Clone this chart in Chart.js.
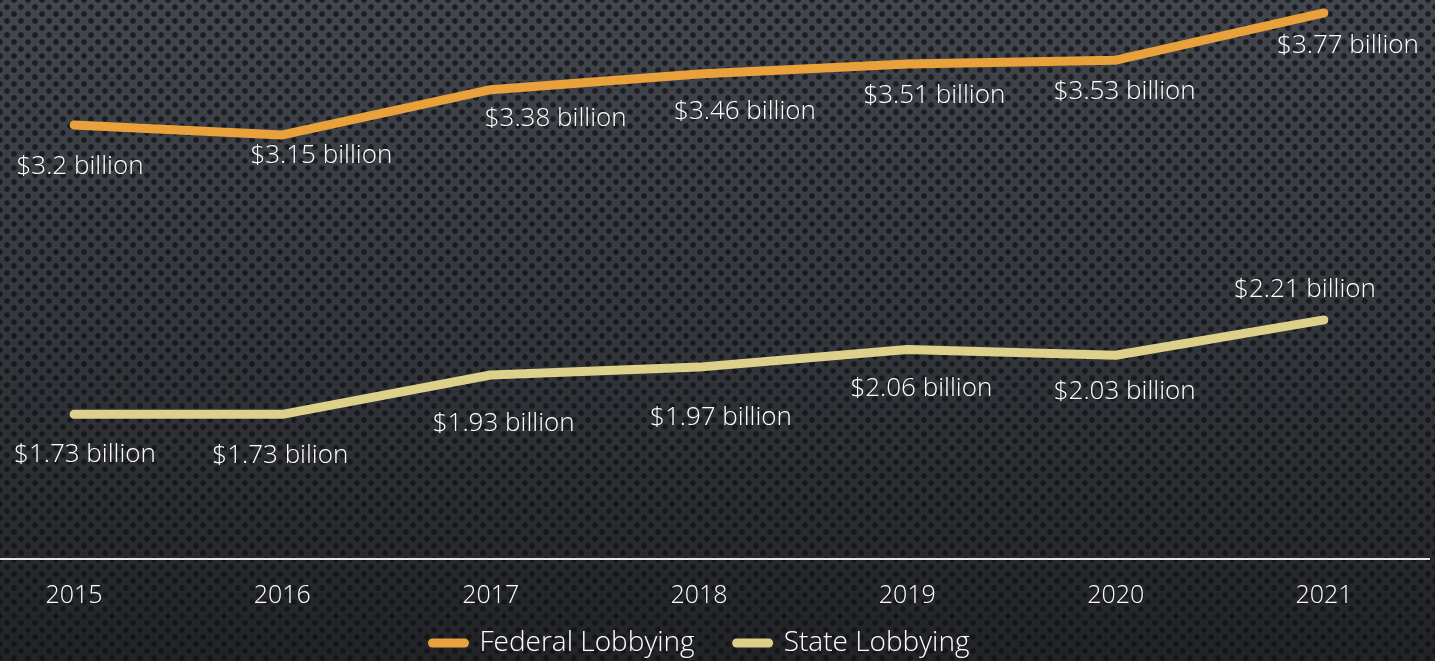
<!DOCTYPE html>
<html lang="en">
<head>
    <meta charset="UTF-8">
    <title>Federal vs State Lobbying</title>
    <script src="https://cdn.jsdelivr.net/npm/chart.js"></script>
    <style>
        html, body { margin: 0; padding: 0; }
        body {
            width: 1435px; height: 661px; overflow: hidden;
            background-color: #2e3035;
            background-image:
                radial-gradient(circle, rgba(14,16,20,0.75) 2.4px, transparent 3.2px),
                radial-gradient(circle, rgba(14,16,20,0.75) 2.4px, transparent 3.2px),
                linear-gradient(to bottom, #43464c 0%, #35383d 45%, #222326 100%);
            background-size: 14px 14px, 14px 14px, 100% 100%;
            background-position: 0 0, 7px 7px, 0 0;
        }
        #wrap { position: absolute; left: 0; top: 0; width: 1435px; height: 661px; }
    </style>
</head>
<body>
    <div id="wrap"><canvas id="lobbyChart"></canvas></div>

    <script>
        // data
        const years = ["2015", "2016", "2017", "2018", "2019", "2020", "2021"];
        const federal = [3.2, 3.15, 3.38, 3.46, 3.51, 3.53, 3.77];
        const state = [1.73, 1.73, 1.93, 1.97, 2.06, 2.03, 2.21];
        const federalLabels = ["$3.2 billion", "$3.15 billion", "$3.38 billion", "$3.46 billion", "$3.51 billion", "$3.53 billion", "$3.77 billion"];
        const stateLabels = ["$1.73 billion", "$1.73 bilion", "$1.93 billion", "$1.97 billion", "$2.06 billion", "$2.03 billion", "$2.21 billion"];

        // label offsets from each point (dx, dy), as placed in the slide
        const federalOffsets = [[6, 42], [39, 21], [65, 29], [46, 38], [27, 32], [9, 31], [24, 33]];
        const stateOffsets = [[11, 40], [-2, 41], [13, 49], [22, 50], [14, 39], [9, 36], [-19, -30]];

        const FONT = "'Century Gothic', 'Open Sans', sans-serif";

        // draws value labels next to points
        const valueLabels = {
            id: "valueLabels",
            afterDatasetsDraw(chart) {
                const ctx = chart.ctx;
                ctx.save();
                ctx.font = "300 26px " + FONT;
                ctx.fillStyle = "#ffffff";
                ctx.textAlign = "center";
                ctx.textBaseline = "middle";
                const sets = [[federalLabels, federalOffsets], [stateLabels, stateOffsets]];
                sets.forEach((s, i) => {
                    chart.getDatasetMeta(i).data.forEach((pt, j) => {
                        ctx.fillText(s[0][j], pt.x + s[1][j][0], pt.y + s[1][j][1]);
                    });
                });
                ctx.restore();
            }
        };

        // horizontal base line across the whole slide
        const baseLine = {
            id: "baseLine",
            beforeDatasetsDraw(chart) {
                const ctx = chart.ctx;
                const y = chart.scales.y.bottom + 1;
                ctx.save();
                ctx.strokeStyle = "#e6e6e6";
                ctx.lineWidth = 2;
                ctx.beginPath();
                ctx.moveTo(0, y);
                ctx.lineTo(chart.width - 5, y);
                ctx.stroke();
                ctx.restore();
            }
        };

        // legend: round-capped swatch followed closely by the label
        const slideLegend = {
            id: "slideLegend",
            afterDraw(chart) {
                const ctx = chart.ctx;
                const area = chart.chartArea;
                const sw = 40, gap = 11, itemGap = 38;
                ctx.save();
                ctx.font = "300 28px " + FONT;
                const items = chart.data.datasets.map(ds => ({ ds, w: ctx.measureText(ds.label).width }));
                let total = 0;
                items.forEach((it, i) => { total += sw + gap + it.w + (i ? itemGap : 0); });
                let x = (area.left + area.right) / 2 - total / 2;
                const y = 643;
                items.forEach(it => {
                    ctx.strokeStyle = it.ds.borderColor;
                    ctx.lineWidth = 9;
                    ctx.lineCap = "round";
                    ctx.beginPath();
                    ctx.moveTo(x + 4, y);
                    ctx.lineTo(x + sw - 4, y);
                    ctx.stroke();
                    ctx.fillStyle = "#ffffff";
                    ctx.textAlign = "left";
                    ctx.textBaseline = "middle";
                    ctx.fillText(it.ds.label, x + sw + gap, y);
                    x += sw + gap + it.w + itemGap;
                });
                ctx.restore();
            }
        };

        new Chart(document.getElementById("lobbyChart"), {
            type: "line",
            data: {
                labels: years,
                datasets: [
                    { label: "Federal Lobbying", data: federal, borderColor: "#e9a23b", backgroundColor: "#e9a23b",
                      borderWidth: 9, borderCapStyle: "round", borderJoinStyle: "round", pointRadius: 0, tension: 0, fill: false },
                    { label: "State Lobbying", data: state, borderColor: "#ddd08a", backgroundColor: "#ddd08a",
                      borderWidth: 9, borderCapStyle: "round", borderJoinStyle: "round", pointRadius: 0, tension: 0, fill: false }
                ]
            },
            options: {
                responsive: true,
                maintainAspectRatio: false,
                animation: false,
                layout: { padding: { left: 74, right: 111, top: 7, bottom: 35 } },
                scales: {
                    x: {
                        offset: false,
                        grid: { display: false },
                        border: { display: false },
                        ticks: { color: "#ffffff", font: { family: FONT, size: 25, weight: 300 }, padding: 15 }
                    },
                    y: { display: false, min: 1, max: 3.8 }
                },
                plugins: {
                    legend: { display: false },
                    tooltip: { enabled: false }
                }
            },
            plugins: [valueLabels, baseLine, slideLegend]
        });
    </script>
</body>
</html>
